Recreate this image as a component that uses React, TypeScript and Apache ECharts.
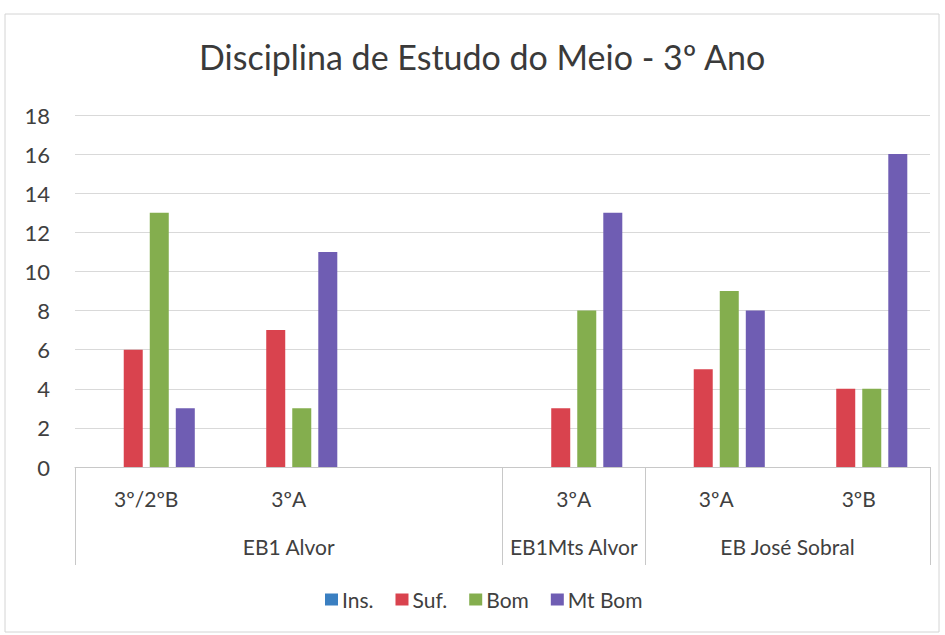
import React, { useEffect, useRef } from "react";
import * as echarts from "echarts";

const titleText = "Disciplina de Estudo do Meio - 3º Ano";
const classes = ["3º/2ºB", "3ºA", "", "3ºA", "3ºA", "3ºB"];
const groupNames = ["EB1 Alvor", "EB1Mts Alvor", "EB José Sobral"];
const groupStarts = [0, 3, 4];
const groupEnds = [3, 4, 6];
const seriesNames = ["Ins.", "Suf.", "Bom", "Mt Bom"];
const insValues = [0, 0, null, 0, 0, 0];
const sufValues = [6, 7, null, 3, 5, 4];
const bomValues = [13, 3, null, 8, 9, 4];
const mtBomValues = [3, 11, null, 13, 8, 16];
const colors = ["#3a7fc1", "#d9434e", "#84ae4e", "#6f5db3"];

const FONT = "Lato";

export default function App() {
  const ref = useRef<HTMLDivElement>(null);
  useEffect(() => {
    if (!ref.current) return;
    const chart = echarts.init(ref.current, null, { renderer: "svg" });
    const allSeries = [insValues, sufValues, bomValues, mtBomValues];
    const groupCenters = groupStarts.map((s, i) => (s + groupEnds[i]) / 2);
    const boundaries = Array.from(new Set([...groupStarts, ...groupEnds]));
    chart.setOption({
      animation: false,
      backgroundColor: "#ffffff",
      color: colors,
      textStyle: { fontFamily: FONT, color: "#404040" },
      title: {
        text: titleText,
        left: 194,
        top: 34,
        textStyle: { fontFamily: FONT, fontSize: 34, fontWeight: "normal", color: "#3a3a3a" },
      },
      legend: {
        bottom: 20,
        left: 320,
        itemWidth: 13,
        itemHeight: 12,
        itemGap: 22,
        icon: "rect",
        textStyle: { fontFamily: FONT, fontSize: 21, color: "#404040", padding: [0, 0, 0, -1] },
        data: seriesNames,
      },
      grid: { left: 75, right: 15, top: 115, bottom: 168 },
      xAxis: [
        {
          type: "category",
          data: classes,
          position: "bottom",
          axisLine: { show: true, lineStyle: { color: "#c8c8c8" } },
          axisTick: { show: false },
          axisLabel: { fontFamily: FONT, fontSize: 21, color: "#404040", margin: 21, interval: 0 },
          splitLine: { show: false },
        },
        {
          type: "value",
          min: 0,
          max: classes.length,
          position: "bottom",
          axisLine: { show: false },
          splitLine: { show: false },
          axisTick: {
            show: true,
            customValues: boundaries,
            length: 98,
            lineStyle: { color: "#c8c8c8" },
          },
          axisLabel: {
            show: true,
            customValues: groupCenters,
            margin: 69,
            fontFamily: FONT,
            fontSize: 21,
            color: "#404040",
            formatter: (v: number) => {
              const i = groupCenters.findIndex((c) => Math.abs(c - v) < 1e-6);
              return i >= 0 ? groupNames[i] : "";
            },
          },
        },
      ],
      yAxis: {
        type: "value",
        min: 0,
        max: 18,
        interval: 2,
        axisLine: { show: false },
        axisTick: { show: false },
        axisLabel: { fontFamily: FONT, fontSize: 22, color: "#404040", margin: 25 },
        splitLine: { lineStyle: { color: "#d9d9d9" } },
      },
      graphic: [
        {
          type: "rect",
          shape: { x: 5, y: 14, width: 934, height: 618 },
          style: { fill: "none", stroke: "#d4d4d4", lineWidth: 1 },
          silent: true,
        },
      ],
      series: allSeries.map((vals, i) => ({
        name: seriesNames[i],
        type: "bar",
        xAxisIndex: 0,
        data: vals,
        barWidth: 19,
        barGap: "37%",
        itemStyle: { color: colors[i] },
      })),
    });
    return () => chart.dispose();
  }, []);
  return (
    <div
      ref={ref}
      style={{ position: "absolute", left: 0, top: 0, width: 945, height: 635 }}
    />
  );
}
